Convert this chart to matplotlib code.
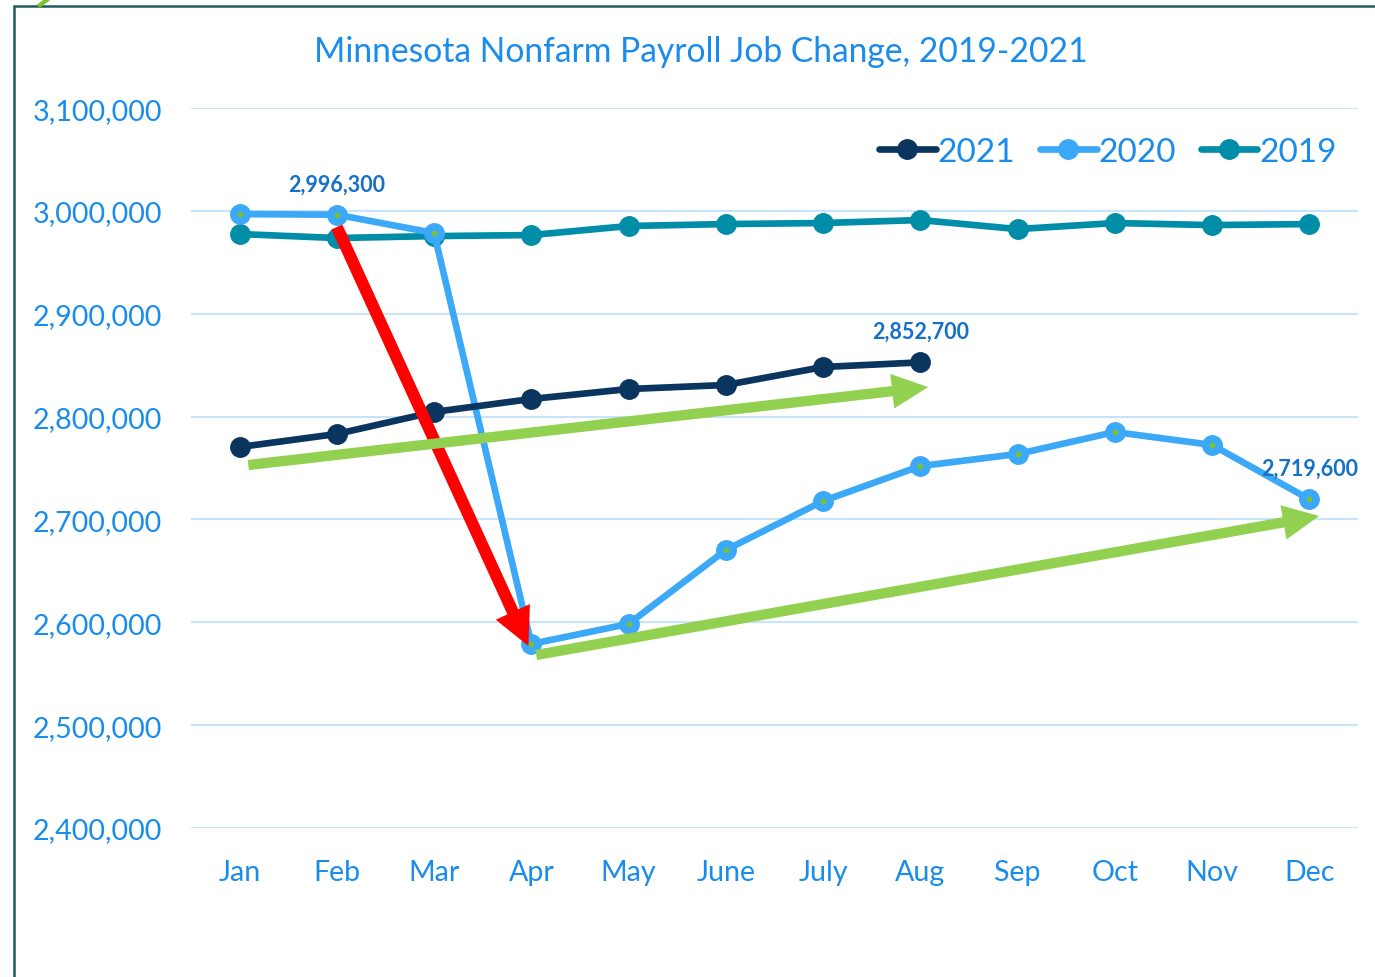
import numpy as np
import matplotlib.pyplot as plt
import matplotlib.ticker as mticker
from matplotlib.patches import Rectangle
from matplotlib.lines import Line2D

plt.rcParams['font.family'] = ['Lato', 'DejaVu Sans']

months = ['Jan', 'Feb', 'Mar', 'Apr', 'May', 'June', 'July', 'Aug', 'Sep', 'Oct', 'Nov', 'Dec']
jobs2019 = [2977500, 2973600, 2975500, 2976500, 2985300, 2987200, 2988200, 2991100,
            2982300, 2988200, 2986200, 2987200]
jobs2020 = [2996900, 2996300, 2978500, 2578900, 2598400, 2670300, 2717900, 2751900,
            2763600, 2785000, 2772400, 2719600]
jobs2021 = [2770400, 2783100, 2804500, 2817100, 2826800, 2830700, 2848200, 2852700]
yticks = [2400000, 2500000, 2600000, 2700000, 2800000, 2900000, 3000000, 3100000]

# labelled points: (month index, value)
callouts = [(1, 2996300), (7, 2852700), (11, 2719600)]
# arrows drawn on the chart: (start, tip) in month index / jobs
red_arrow = [(1.0, 2984300), (2.97, 2576900)]
green_arrows = [[(0.09, 2752900), (7.08, 2828700)],
                [(3.05, 2568200), (11.10, 2703300)]]

c2019 = '#008DA8'
c2020 = '#3BA8F8'
c2021 = '#0A355F'
txt = '#1A8CEB'
lab = '#1570C8'

fig = plt.figure(figsize=(13.75, 9.78), dpi=100)
ax = fig.add_axes([0.1389, 0.1524, 0.8487, 0.7361])
x = np.arange(len(months))

ax.plot(x[:len(jobs2021)], jobs2021, color=c2021, lw=4.8, marker='o', ms=14,
        label='2021', zorder=4, solid_capstyle='round')
ax.plot(x, jobs2020, color=c2020, lw=4.8, marker='o', ms=14, label='2020',
        zorder=3, solid_capstyle='round')
ax.plot(x, jobs2020, ls='none', marker='o', ms=3, color='#7CC12E', zorder=6)
ax.plot(x, jobs2019, color=c2019, lw=4.8, marker='o', ms=14, label='2019',
        zorder=2, solid_capstyle='round')

ax.annotate('', xy=red_arrow[1], xytext=red_arrow[0],
            arrowprops=dict(arrowstyle='simple,head_length=27,head_width=27,tail_width=8.6',
                            mutation_scale=1, color='#FF0000', lw=0,
                            shrinkA=0, shrinkB=0), zorder=5)
for a in green_arrows:
    ax.annotate('', xy=a[1], xytext=a[0],
                arrowprops=dict(arrowstyle='simple,head_length=26,head_width=25,tail_width=7.4',
                                mutation_scale=1, color='#92D050', lw=0,
                                shrinkA=0, shrinkB=0), zorder=5)

for i, v in callouts:
    ax.text(i, v + 30000, f'{v:,}', ha='center', va='center', fontsize=15.5,
            fontweight='bold', color=lab, zorder=7)

ax.set_xlim(-0.5, 11.5)
ax.set_ylim(2400000, 3100000)
ax.set_yticks(yticks)
ax.yaxis.set_major_formatter(mticker.FuncFormatter(lambda v, p: f'{int(v):,}'))
ax.set_xticks(x)
ax.set_xticklabels(months)
ax.tick_params(axis='both', length=0, labelsize=20.6, labelcolor=txt)
ax.tick_params(axis='y', pad=21)
ax.tick_params(axis='x', pad=22)
ax.grid(axis='y', color='#C8E4FA', lw=1.5)
ax.set_axisbelow(True)
for s in ax.spines.values():
    s.set_visible(False)

fig.text(701 / 1375, 1 - 52 / 978, 'Minnesota Nonfarm Payroll Job Change, 2019-2021',
         fontsize=24.2, color=txt, ha='center', va='center')

leg = ax.legend(loc='center right', bbox_to_anchor=(0.996, 0.939), ncol=3, frameon=False,
                fontsize=24, handlelength=1.7, handletextpad=0.05, columnspacing=0.75,
                labelcolor=txt, borderpad=0)

# frame of the original slide
fig.patches.append(Rectangle((14 / 1375, -0.1), 1.2, 1 - 7 / 978 + 0.1,
                             transform=fig.transFigure, fill=False,
                             edgecolor='#1F5C5E', lw=1.8))
fig.lines.append(Line2D([40 / 1375, 48 / 1375], [1 - 6 / 978, 1.0],
                        transform=fig.transFigure, color='#7CC12E', lw=3))

fig.savefig('out.png', dpi=100)
